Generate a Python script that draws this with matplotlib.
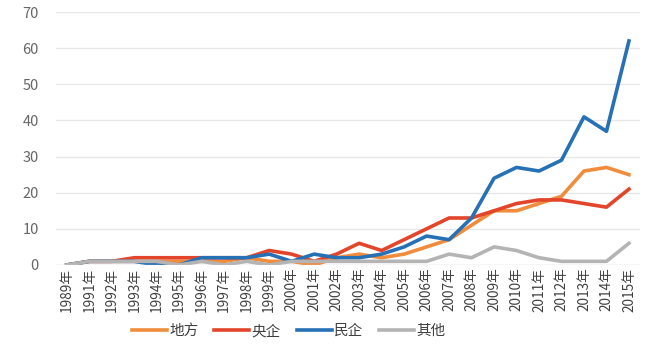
import matplotlib
matplotlib.use("Agg")
import matplotlib.pyplot as plt

plt.rcParams['font.family'] = ['Noto Sans CJK SC', 'DejaVu Sans']

years = ["1989年"] + [f"{y}年" for y in range(1991, 2016)]
difang = [0, 1, 1, 1, 1, 1, 1, 1, 2, 1, 1, 0, 2, 3, 2, 3, 5, 7, 11, 15, 15, 17, 19, 26, 27, 25]
yangqi = [0, 1, 1, 2, 2, 2, 2, 2, 2, 4, 3, 1, 3, 6, 4, 7, 10, 13, 13, 15, 17, 18, 18, 17, 16, 21]
minqi = [0, 1, 1, 1, 0, 0, 2, 2, 2, 3, 1, 3, 2, 2, 3, 5, 8, 7, 13, 24, 27, 26, 29, 41, 37, 62]
qita = [0, 1, 1, 1, 1, 0, 1, 0, 1, 0, 1, 1, 1, 1, 1, 1, 1, 3, 2, 5, 4, 2, 1, 1, 1, 6]
series_names = ["地方", "央企", "民企", "其他"]
colors = ["#F08C3C", "#E2452A", "#2670B5", "#B4B4B4"]
yticks = [0, 10, 20, 30, 40, 50, 60, 70]

fig = plt.figure(figsize=(6.46, 3.45), dpi=100)
ax = fig.add_axes([0.086, 0.232, 0.905, 0.733])
x = list(range(len(years)))
for data, name, c in zip([difang, yangqi, minqi, qita], series_names, colors):
    ax.plot(x, data, color=c, lw=2.6, label=name, solid_joinstyle='round')

ax.set_xlim(-0.5, len(years) - 0.5)
ax.set_ylim(0, 70)
ax.set_yticks(yticks)
ax.set_xticks(x)
ax.set_xticklabels(years, rotation=90, fontsize=9.8, color="#404040")
ax.tick_params(axis='y', labelsize=10.5, colors="#666666", length=0, pad=12)
ax.tick_params(axis='x', length=0, pad=2)
for s in ax.spines.values():
    s.set_visible(False)
ax.grid(axis='y', color="#E6E6E6", lw=0.9)
ax.axhline(0, color="#D9D9D9", lw=0.9)
ax.set_axisbelow(True)
leg = fig.legend(loc='center', bbox_to_anchor=(0.447, 0.04), ncol=4, frameon=False,
                 fontsize=10.5, handlelength=2.4, columnspacing=1.1, handletextpad=0.15,
                 borderpad=0)
for t in leg.get_texts():
    t.set_color("#404040")
fig.savefig("out.png", dpi=100)
